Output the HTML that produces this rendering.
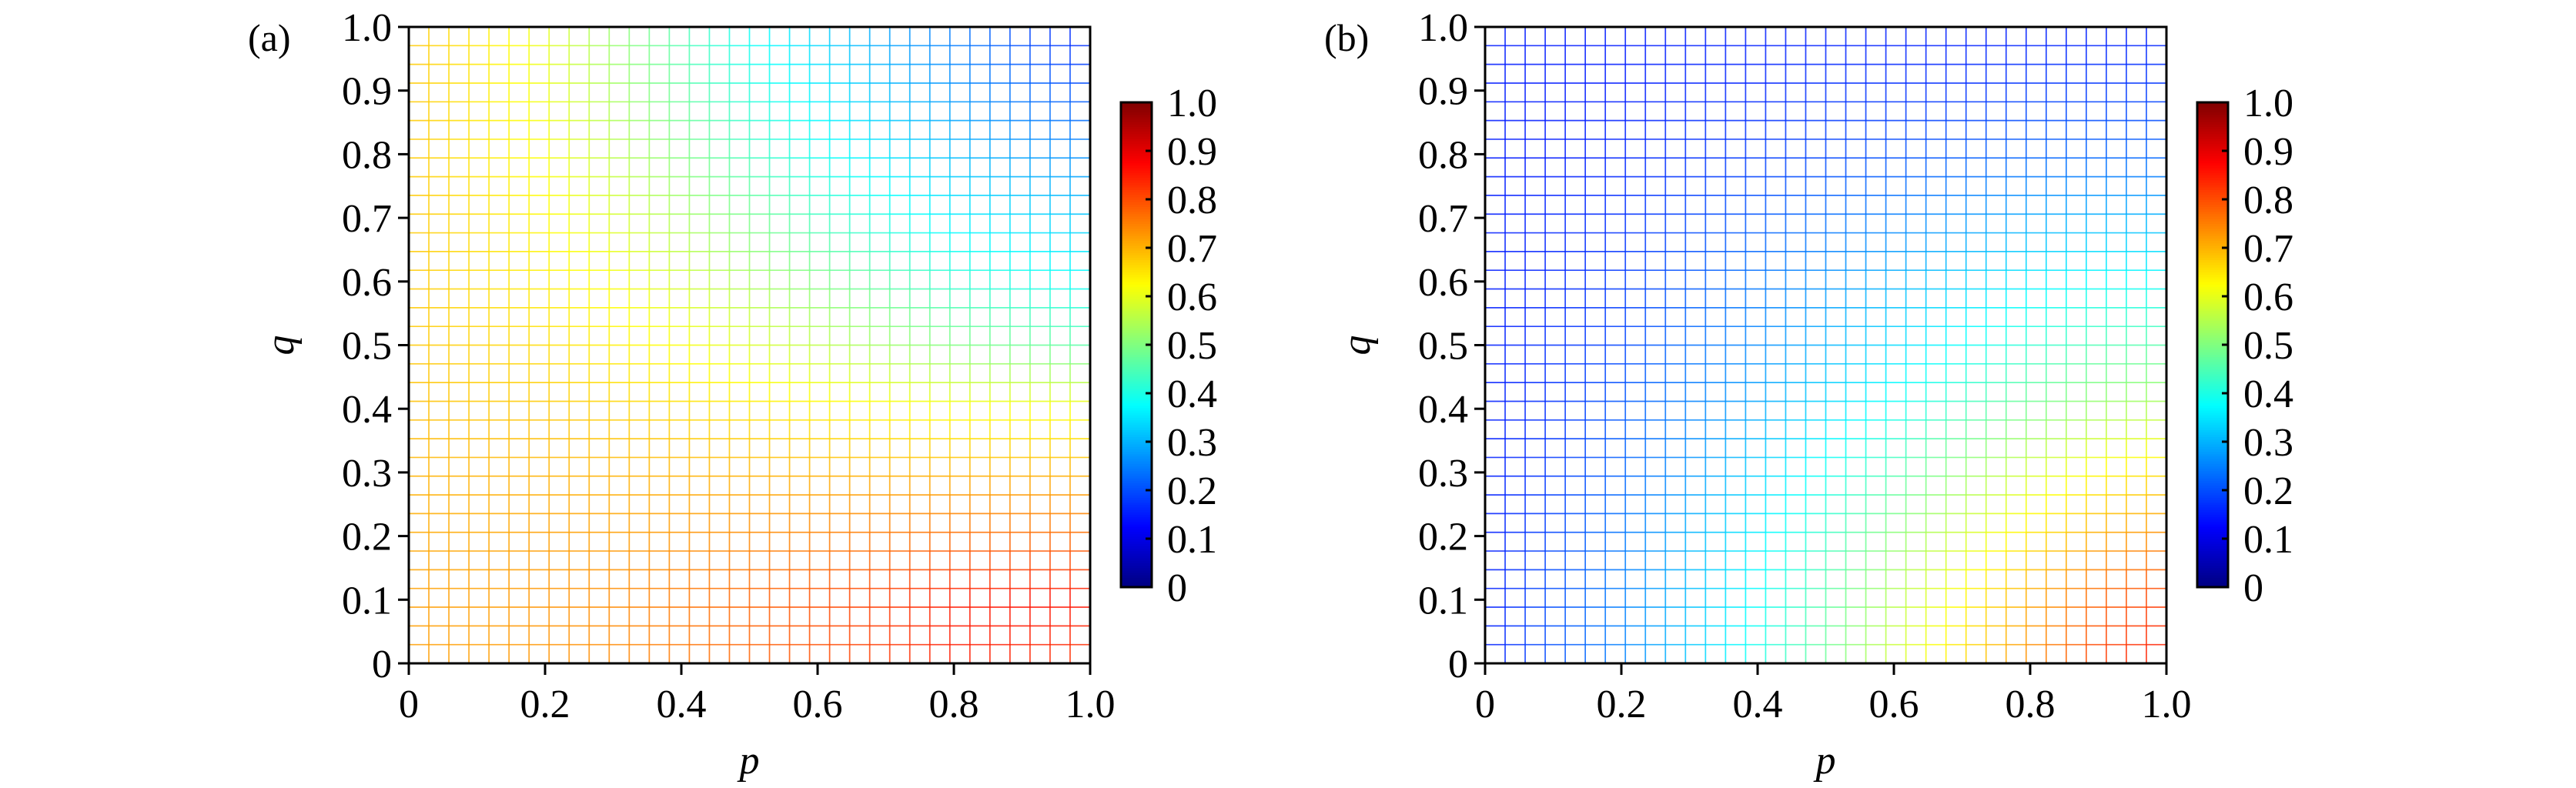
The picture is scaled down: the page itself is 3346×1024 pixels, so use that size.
<!DOCTYPE html>
<html><head><meta charset="utf-8"><style>
html,body{margin:0;padding:0;background:#fff;}
svg{display:block;}
text{font-family:"Liberation Serif","DejaVu Serif",serif;fill:#000;}
</style></head><body>
<svg id="fig" width="3346" height="1024" viewBox="0 0 3346 1024" xmlns="http://www.w3.org/2000/svg"></svg>
<script>
// Data: values on an 11x11 (q rows 0..1, p cols 0..1) grid
const gridTicks = [0,0.1,0.2,0.3,0.4,0.5,0.6,0.7,0.8,0.9,1.0];
const tickLabels = ["0","0.1","0.2","0.3","0.4","0.5","0.6","0.7","0.8","0.9","1.0"];
const xTickVals = [0,0.2,0.4,0.6,0.8,1.0];
const xTickLabels = ["0","0.2","0.4","0.6","0.8","1.0"];
const valuesA = [
 [.72,.72,.73,.74,.76,.78,.80,.82,.85,.84,.82],
 [.72,.72,.73,.74,.76,.78,.80,.82,.85,.86,.86],
 [.71,.71,.72,.72,.73,.74,.75,.76,.77,.77,.77],
 [.70,.70,.70,.70,.70,.70,.70,.70,.70,.70,.70],
 [.69,.68,.68,.67,.66,.65,.64,.63,.62,.62,.62],
 [.68,.67,.66,.64,.62,.59,.56,.53,.50,.48,.46],
 [.68,.66,.64,.62,.58,.54,.50,.46,.42,.40,.38],
 [.68,.66,.63,.59,.54,.49,.44,.40,.36,.34,.32],
 [.68,.65,.62,.56,.50,.44,.39,.35,.31,.28,.26],
 [.68,.65,.61,.54,.47,.41,.36,.31,.27,.23,.20],
 [.68,.65,.60,.52,.45,.38,.33,.28,.24,.19,.15]
];
const valuesB = [
 [.15,.20,.25,.32,.40,.48,.58,.66,.74,.82,.86],
 [.15,.20,.25,.31,.38,.46,.55,.63,.71,.78,.82],
 [.15,.19,.24,.30,.36,.43,.51,.58,.65,.71,.74],
 [.15,.18,.22,.27,.33,.39,.45,.52,.58,.63,.66],
 [.15,.17,.21,.25,.29,.34,.39,.44,.49,.53,.55],
 [.15,.17,.19,.23,.26,.30,.34,.38,.42,.45,.46],
 [.15,.16,.18,.21,.24,.27,.30,.33,.36,.38,.38],
 [.15,.16,.17,.19,.21,.23,.25,.27,.29,.30,.30],
 [.15,.15,.16,.17,.18,.19,.20,.21,.22,.22,.22],
 [.15,.15,.15,.16,.16,.17,.17,.17,.18,.18,.18],
 [.15,.15,.15,.15,.15,.15,.15,.15,.15,.15,.15]
];
const meshN = 34;

const NS="http://www.w3.org/2000/svg";
const svg=document.getElementById('fig');
function mk(tag,attrs,parent){const e=document.createElementNS(NS,tag);for(const k in attrs)e.setAttribute(k,attrs[k]);(parent||svg).appendChild(e);return e;}
function clamp(v){return Math.max(0,Math.min(1,v));}
function jet(x){const r=clamp(1.5-Math.abs(4*x-3)),g=clamp(1.5-Math.abs(4*x-2)),b=clamp(1.5-Math.abs(4*x-1));
 return `rgb(${Math.round(r*255)},${Math.round(g*255)},${Math.round(b*255)})`;}
function sample(vals,p,q){const fp=p*10,fq=q*10;let i=Math.min(9,Math.floor(fq)),j=Math.min(9,Math.floor(fp));
 const tq=fq-i,tp=fp-j;
 return (vals[i][j]*(1-tp)+vals[i][j+1]*tp)*(1-tq)+(vals[i+1][j]*(1-tp)+vals[i+1][j+1]*tp)*tq;}

function panel(ox,vals,label,name){
 const L=ox,R=ox+885,T=35,B=862;
 const xs=v=>L+v*(R-L), ys=v=>B-v*(B-T);
 const g=mk('g',{});
 
 
 const mesh=mk('g',{'stroke-width':1.7,'stroke-opacity':0.85},g);
 
 
 for(let a=0;a<=meshN;a++){
  const u=a/meshN;
  for(let b=0;b<meshN;b++){
   const v0=b/meshN,v1=(b+1)/meshN,vm=(v0+v1)/2;
   const h=mk('line',{x1:xs(v0),x2:xs(v1),y1:ys(u),y2:ys(u),stroke:jet(sample(vals,vm,u))},mesh);
   
   
   const vl=mk('line',{x1:xs(u),x2:xs(u),y1:ys(v0),y2:ys(v1),stroke:jet(sample(vals,u,vm))},mesh);
   
   
  }
 }
 const frame=mk('rect',{x:L,y:T,width:R-L,height:B-T,fill:'none',stroke:'#000','stroke-width':3},g);
 
 
 gridTicks.forEach((v,i)=>{
  mk('line',{x1:L-14,x2:L,y1:ys(v),y2:ys(v),stroke:'#000','stroke-width':3},g);
  const t=mk('text',{x:L-22,y:ys(v)+18,'text-anchor':'end','font-size':52},g);
  t.textContent=tickLabels[i];
  
  
 });
 xTickVals.forEach((v,i)=>{
  mk('line',{x1:xs(v),x2:xs(v),y1:B,y2:B+15,stroke:'#000','stroke-width':3},g);
  const t=mk('text',{x:xs(v),y:932,'text-anchor':'middle','font-size':52},g);
  t.textContent=xTickLabels[i];
  
  
 });
 const xl=mk('text',{x:(L+R)/2,y:1005,'text-anchor':'middle','font-size':52,'font-style':'italic'},g);
 xl.textContent='p';
 
 
 const yl=mk('text',{x:0,y:0,'text-anchor':'middle','font-size':52,'font-style':'italic',transform:`translate(${L-150},${(T+B)/2}) rotate(-90)`},g);
 yl.textContent='q';
 
 
 const pl=mk('text',{x:L-209,y:66,'font-size':50},g);
 pl.textContent=label;
 
 
 const cx=L+925,cw=40,cT=133,cB=763;
 const cs=v=>cB-v*(cB-cT);
 const cb=mk('g',{},g);
 
 
 for(let k=0;k<200;k++){
  const v0=k/200,v1=(k+1)/200;
  mk('rect',{x:cx,y:cs(v1)-0.5,width:cw,height:cs(v0)-cs(v1)+1,fill:jet((v0+v1)/2)},cb);
 }
 mk('rect',{x:cx,y:cT,width:cw,height:cB-cT,fill:'none',stroke:'#000','stroke-width':3},cb);
 gridTicks.forEach((v,i)=>{
  mk('line',{x1:cx+cw-8,x2:cx+cw,y1:cs(v),y2:cs(v),stroke:'#000','stroke-width':3},cb);
  const t=mk('text',{x:cx+60,y:cs(v)+18,'font-size':52},cb);
  t.textContent=tickLabels[i];
  
  
 });
}
panel(531,valuesA,'(a)','panel-a');
panel(1929,valuesB,'(b)','panel-b');
</script>
</body></html>
